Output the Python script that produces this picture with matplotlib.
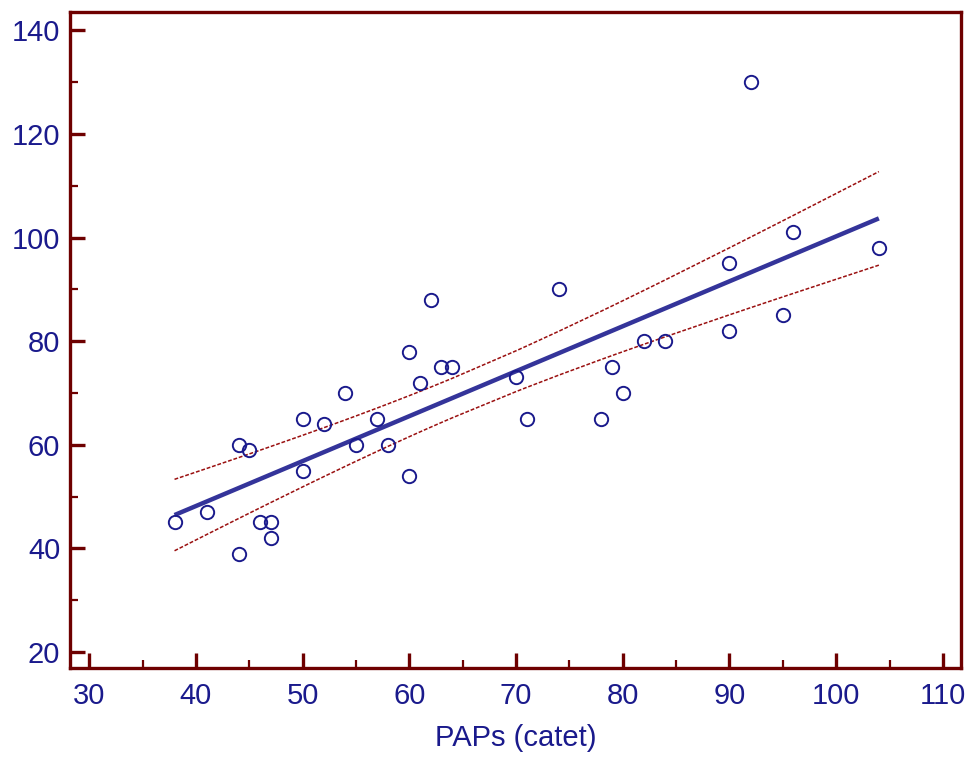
import numpy as np
import matplotlib
matplotlib.use("Agg")
import matplotlib.pyplot as plt
from matplotlib.ticker import MultipleLocator

plt.rcParams["font.family"] = ["Liberation Sans", "DejaVu Sans"]

# data
paps = [38, 41, 44, 44, 45, 46, 47, 47, 50, 50, 52, 54, 55, 57, 58, 60, 60, 61, 62,
        63, 64, 70, 71, 74, 78, 79, 80, 82, 84, 90, 90, 92, 95, 96, 104]
yval = [45, 47, 60, 39, 59, 45, 45, 42, 65, 55, 64, 70, 60, 65, 60, 78, 54, 72, 88,
        75, 75, 73, 65, 90, 65, 75, 70, 80, 80, 95, 82, 130, 85, 101, 98]
x_label = "PAPs (catet)"

axis_col = "#6e0000"
text_col = "#1a1a8c"
line_col = "#34349a"
band_col = "#9a1010"

x = np.array(paps, dtype=float)
y = np.array(yval, dtype=float)
n = len(x)

# least squares fit and 95% confidence band of the regression line
slope, intercept = np.polyfit(x, y, 1)
resid = y - (slope * x + intercept)
s = np.sqrt(np.sum(resid ** 2) / (n - 2))
sxx = np.sum((x - x.mean()) ** 2)
t = 2.0345  # t(0.975, 33)
xs = np.unique(x)
fit = slope * xs + intercept
half = t * s * np.sqrt(1.0 / n + (xs - x.mean()) ** 2 / sxx)

fig = plt.figure(figsize=(9.73, 7.58), dpi=100)
ax = fig.add_axes([0.0719, 0.1187, 0.9158, 0.8659])

ax.plot(xs, fit + half, color=band_col, lw=1.1, ls=(0, (2.5, 1.2)))
ax.plot(xs, fit - half, color=band_col, lw=1.1, ls=(0, (2.5, 1.2)))
ax.plot(xs, fit, color=line_col, lw=3.2, solid_capstyle="butt")
ax.plot(x, y, "o", ms=9.6, mfc="none", mec=text_col, mew=1.4)

ax.set_xlim(28.2, 111.7)
ax.set_ylim(16.9, 143.6)
ax.xaxis.set_major_locator(MultipleLocator(10))
ax.xaxis.set_minor_locator(MultipleLocator(5))
ax.yaxis.set_major_locator(MultipleLocator(20))
ax.yaxis.set_minor_locator(MultipleLocator(10))

for sp in ax.spines.values():
    sp.set_color(axis_col)
    sp.set_linewidth(2.4)

ax.tick_params(which="major", direction="in", length=11, width=2.4, color=axis_col,
               labelcolor=text_col, labelsize=21, pad=7)
ax.tick_params(which="minor", direction="in", length=6, width=1.6, color=axis_col)
ax.tick_params(axis="x", which="major", pad=10)

ax.set_xlabel(x_label, color=text_col, fontsize=21, labelpad=10)

fig.savefig("out.png", dpi=100)
